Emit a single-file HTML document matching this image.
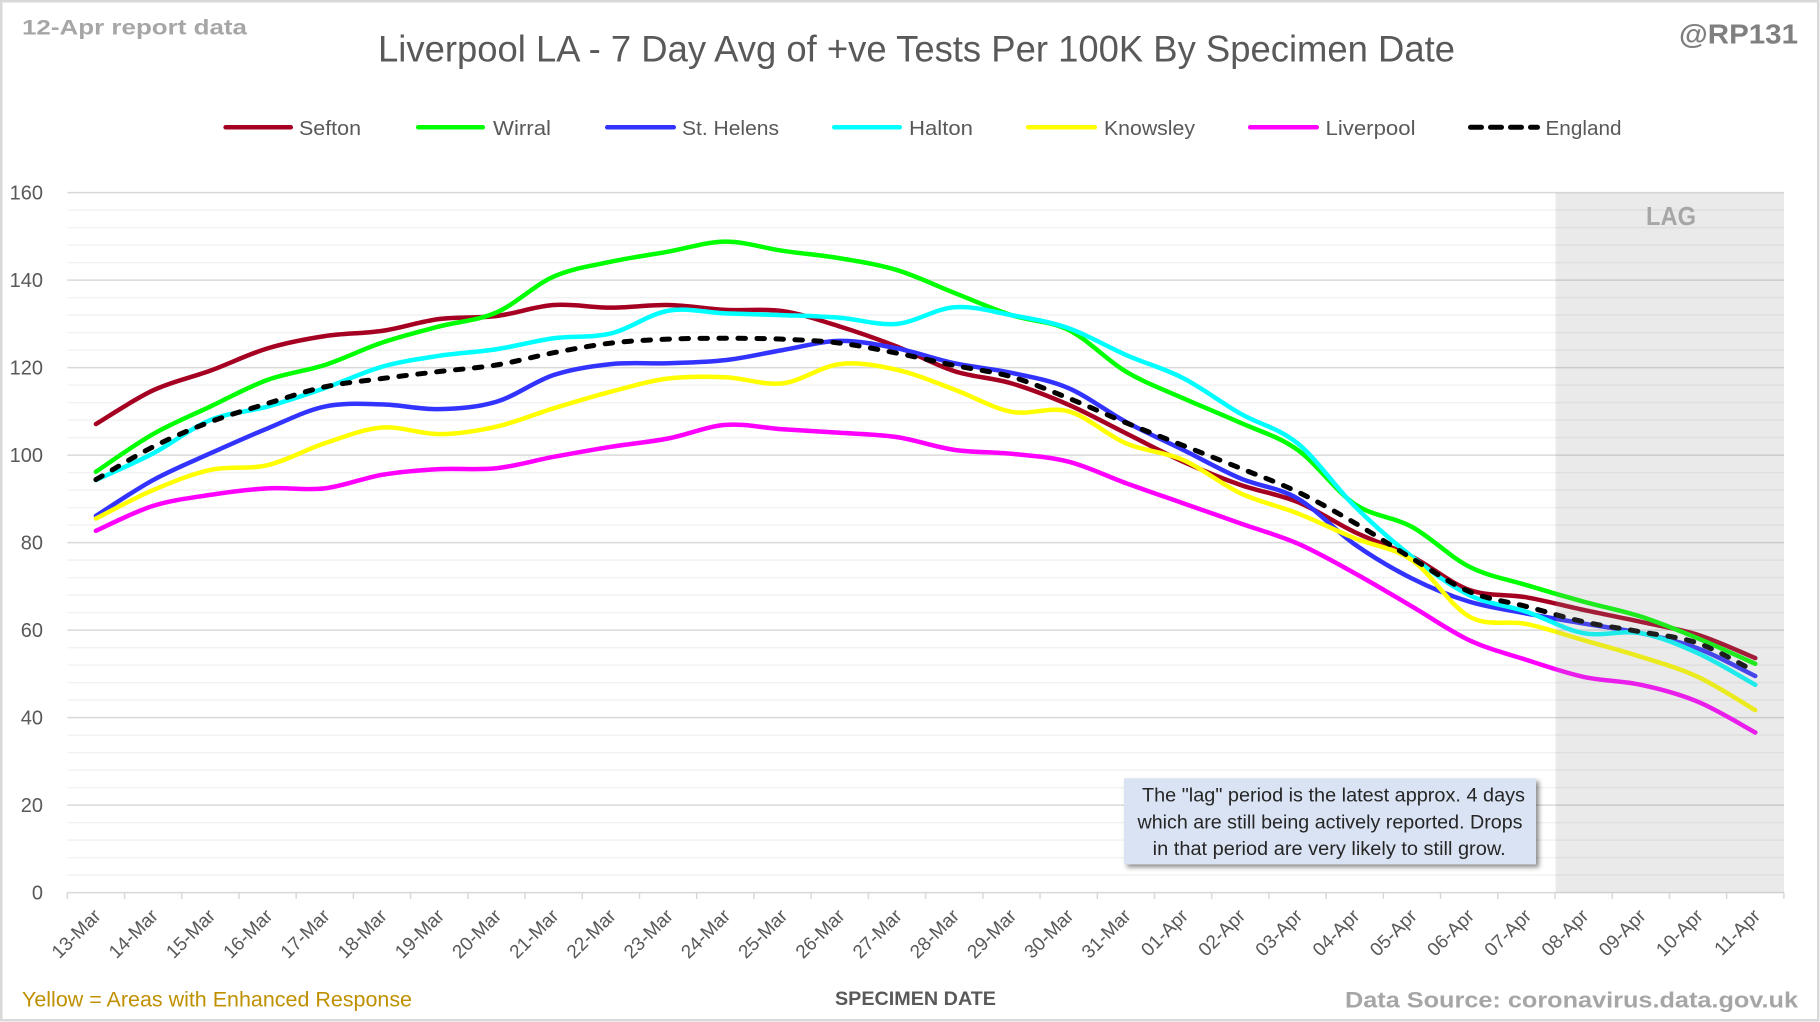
<!DOCTYPE html>
<html>
<head>
<meta charset="utf-8">
<style>
html,body{margin:0;padding:0;background:#fff;}
svg{display:block;}
text{font-family:"Liberation Sans",Arial,sans-serif;}
</style>
</head>
<body>
<svg id="c" xmlns="http://www.w3.org/2000/svg" width="1820" height="1022" viewBox="0 0 1820 1022">
<defs>
<filter id="sh" x="-10%" y="-20%" width="130%" height="150%">
<feDropShadow dx="3" dy="3" stdDeviation="2.5" flood-color="#000" flood-opacity="0.45"/>
</filter>
</defs>
<rect x="1.25" y="1.25" width="1817" height="1019" fill="#fff" stroke="#D9D9D9" stroke-width="2.5"/>

<!-- header texts -->
<text x="22" y="34.5" font-size="21" font-weight="bold" fill="#A6A6A6" textLength="225" lengthAdjust="spacingAndGlyphs">12-Apr report data</text>
<text x="378" y="61.7" font-size="37" fill="#595959" textLength="1077" lengthAdjust="spacingAndGlyphs">Liverpool LA - 7 Day Avg of +ve Tests Per 100K By Specimen Date</text>
<text x="1679" y="43.3" font-size="28" font-weight="bold" fill="#7F7F7F" textLength="119" lengthAdjust="spacingAndGlyphs">@RP131</text>

<!-- legend -->
<g stroke-width="4.5" stroke-linecap="round" fill="none">
<path d="M225.6 127.3H290.8" stroke="#A50021"/>
<path d="M418.2 127.3H482.8" stroke="#00FF00"/>
<path d="M607.2 127.3H673.8" stroke="#3333FF"/>
<path d="M834.2 127.3H899.8" stroke="#00FFFF"/>
<path d="M1028.2 127.3H1094.8" stroke="#FFFF00"/>
<path d="M1250.2 127.3H1316.8" stroke="#FF00FF"/>
<path d="M1470.5 127.3H1537.5" stroke="#000" stroke-width="5" stroke-dasharray="11 9"/>
</g>
<g font-size="20" fill="#595959">
<text x="299" y="135" textLength="62" lengthAdjust="spacingAndGlyphs">Sefton</text>
<text x="493" y="135" textLength="58" lengthAdjust="spacingAndGlyphs">Wirral</text>
<text x="682" y="135" textLength="97" lengthAdjust="spacingAndGlyphs">St. Helens</text>
<text x="909" y="135" textLength="64" lengthAdjust="spacingAndGlyphs">Halton</text>
<text x="1104" y="135" textLength="91" lengthAdjust="spacingAndGlyphs">Knowsley</text>
<text x="1325.5" y="135" textLength="90" lengthAdjust="spacingAndGlyphs">Liverpool</text>
<text x="1545.5" y="135" textLength="76" lengthAdjust="spacingAndGlyphs">England</text>
</g>

<!-- gridlines -->
<path fill="none" stroke="#F2F2F2" stroke-width="1.5" d="M67.3 875.1H1784M67.3 857.6H1784M67.3 840.1H1784M67.3 822.6H1784M67.3 787.6H1784M67.3 770.1H1784M67.3 752.6H1784M67.3 735.1H1784M67.3 700.1H1784M67.3 682.6H1784M67.3 665.1H1784M67.3 647.6H1784M67.3 612.6H1784M67.3 595.1H1784M67.3 577.6H1784M67.3 560.1H1784M67.3 525.1H1784M67.3 507.6H1784M67.3 490.1H1784M67.3 472.6H1784M67.3 437.6H1784M67.3 420.1H1784M67.3 402.6H1784M67.3 385.1H1784M67.3 350.1H1784M67.3 332.6H1784M67.3 315.1H1784M67.3 297.6H1784M67.3 262.6H1784M67.3 245.1H1784M67.3 227.6H1784M67.3 210.1H1784"/>
<path fill="none" stroke="#D9D9D9" stroke-width="1.5" d="M67.3 892.6H1784M67.3 805.1H1784M67.3 717.6H1784M67.3 630.1H1784M67.3 542.6H1784M67.3 455.1H1784M67.3 367.6H1784M67.3 280.1H1784M67.3 192.6H1784"/>
<!-- ticks -->
<path fill="none" stroke="#D9D9D9" stroke-width="1.5" d="M67.3 892.6V899M124.52 892.6V899M181.74 892.6V899M238.96 892.6V899M296.18 892.6V899M353.4 892.6V899M410.62 892.6V899M467.84 892.6V899M525.06 892.6V899M582.28 892.6V899M639.5 892.6V899M696.72 892.6V899M753.94 892.6V899M811.16 892.6V899M868.38 892.6V899M925.6 892.6V899M982.82 892.6V899M1040.04 892.6V899M1097.26 892.6V899M1154.48 892.6V899M1211.7 892.6V899M1268.92 892.6V899M1326.14 892.6V899M1383.36 892.6V899M1440.58 892.6V899M1497.8 892.6V899M1555.02 892.6V899M1612.24 892.6V899M1669.46 892.6V899M1726.68 892.6V899M1783.9 892.6V899"/>

<!-- y labels -->
<g font-size="20" fill="#595959" text-anchor="end">
<text x="43" y="199.6">160</text>
<text x="43" y="287.1">140</text>
<text x="43" y="374.6">120</text>
<text x="43" y="462.1">100</text>
<text x="43" y="549.6">80</text>
<text x="43" y="637.1">60</text>
<text x="43" y="724.6">40</text>
<text x="43" y="812.1">20</text>
<text x="43" y="899.6">0</text>
</g>

<!-- x labels -->
<g font-size="19" fill="#595959" text-anchor="end">
<text transform="translate(101.9 917) rotate(-45)">13-Mar</text>
<text transform="translate(159.1 917) rotate(-45)">14-Mar</text>
<text transform="translate(216.3 917) rotate(-45)">15-Mar</text>
<text transform="translate(273.6 917) rotate(-45)">16-Mar</text>
<text transform="translate(330.8 917) rotate(-45)">17-Mar</text>
<text transform="translate(388.0 917) rotate(-45)">18-Mar</text>
<text transform="translate(445.2 917) rotate(-45)">19-Mar</text>
<text transform="translate(502.4 917) rotate(-45)">20-Mar</text>
<text transform="translate(559.7 917) rotate(-45)">21-Mar</text>
<text transform="translate(616.9 917) rotate(-45)">22-Mar</text>
<text transform="translate(674.1 917) rotate(-45)">23-Mar</text>
<text transform="translate(731.3 917) rotate(-45)">24-Mar</text>
<text transform="translate(788.5 917) rotate(-45)">25-Mar</text>
<text transform="translate(845.8 917) rotate(-45)">26-Mar</text>
<text transform="translate(903.0 917) rotate(-45)">27-Mar</text>
<text transform="translate(960.2 917) rotate(-45)">28-Mar</text>
<text transform="translate(1017.4 917) rotate(-45)">29-Mar</text>
<text transform="translate(1074.6 917) rotate(-45)">30-Mar</text>
<text transform="translate(1131.9 917) rotate(-45)">31-Mar</text>
<text transform="translate(1189.1 917) rotate(-45)">01-Apr</text>
<text transform="translate(1246.3 917) rotate(-45)">02-Apr</text>
<text transform="translate(1303.5 917) rotate(-45)">03-Apr</text>
<text transform="translate(1360.7 917) rotate(-45)">04-Apr</text>
<text transform="translate(1418.0 917) rotate(-45)">05-Apr</text>
<text transform="translate(1475.2 917) rotate(-45)">06-Apr</text>
<text transform="translate(1532.4 917) rotate(-45)">07-Apr</text>
<text transform="translate(1589.6 917) rotate(-45)">08-Apr</text>
<text transform="translate(1646.8 917) rotate(-45)">09-Apr</text>
<text transform="translate(1704.1 917) rotate(-45)">10-Apr</text>
<text transform="translate(1761.3 917) rotate(-45)">11-Apr</text>
</g>

<!-- series -->
<g id="ser" transform="translate(95.9 892.6) scale(57.22 -4.375)" fill="none" stroke-linecap="round" stroke-linejoin="round">
<path vector-effect="non-scaling-stroke" stroke="#A50021" stroke-width="4.5" d="M0 107.1 1 114.8 2 119.3 3 124.4 4 127.2 5 128.4 6 131.1 7 131.8 8 134.3 9 133.7 10 134.3 11 133.2 12 132.9 13 129.4 14 124.8 15 119.2 16 116.4 17 111.5 18 105.0 19 98.5 20 93.2 21 89.3 22 82.4 23 76.8 24 69.2 25 67.5 26 64.6 27 61.9 28 58.9 29 53.6"/>
<path vector-effect="non-scaling-stroke" stroke="#00FF00" stroke-width="4.5" d="M0 96.2 1 104.8 2 111.1 3 117.2 4 120.6 5 125.7 6 129.4 7 132.6 8 140.8 9 144.2 10 146.5 11 148.8 12 146.7 13 145.0 14 142.3 15 137.1 16 132.0 17 128.6 18 119.1 19 113.0 20 107.4 21 101.2 22 88.8 23 83.6 24 74.5 25 70.3 26 66.5 27 63.1 28 58.1 29 52.3"/>
<path vector-effect="non-scaling-stroke" stroke="#3333FF" stroke-width="4.5" d="M0 86.1 1 94.3 2 100.4 3 106.1 4 111.1 5 111.6 6 110.5 7 112.2 8 118.3 9 120.8 10 121.0 11 121.7 12 124.0 13 126.1 14 124.4 15 121.0 16 118.8 17 115.3 18 107.6 19 101.2 20 94.7 21 90.1 22 79.6 23 71.8 24 66.5 25 63.8 26 61.5 27 59.3 28 55.8 29 49.5"/>
<path vector-effect="non-scaling-stroke" stroke="#00FFFF" stroke-width="4.5" d="M0 94.3 1 100.4 2 108.0 3 111.1 4 115.3 5 120.2 6 122.7 7 124.2 8 126.7 9 127.8 10 133.0 11 132.4 12 132.0 13 131.4 14 130.0 15 133.8 16 132.0 17 129.0 18 122.9 19 117.6 20 109.5 21 102.7 22 88.3 23 76.8 24 68.0 25 64.2 26 59.3 27 59.3 28 54.7 29 47.5"/>
<path vector-effect="non-scaling-stroke" stroke="#FFFF00" stroke-width="4.5" d="M0 85.5 1 92.0 2 96.6 3 97.7 4 102.7 5 106.3 6 104.8 7 106.5 8 110.7 9 114.5 10 117.5 11 117.8 12 116.4 13 120.8 14 119.5 15 115.0 16 109.9 17 110.0 18 102.7 19 98.9 20 91.3 21 86.7 22 81.0 23 76.0 24 63.1 25 61.4 26 57.7 27 53.9 28 49.3 29 41.7"/>
<path vector-effect="non-scaling-stroke" stroke="#FF00FF" stroke-width="4.5" d="M0 82.7 1 88.4 2 90.9 3 92.4 4 92.4 5 95.5 6 96.8 7 97.0 8 99.6 9 101.9 10 103.8 11 106.9 12 105.9 13 105.1 14 104.1 15 101.2 16 100.3 17 98.5 18 93.6 19 89.0 20 84.4 21 79.8 22 73.0 23 65.4 24 57.7 25 53.2 26 49.3 27 47.5 28 43.6 29 36.6"/>
<path vector-effect="non-scaling-stroke" stroke="#000000" stroke-width="5" stroke-dasharray="7.5 11.5" d="M0 94.4 1 101.9 2 107.6 3 111.8 4 115.6 5 117.5 6 119.1 7 120.6 8 123.4 9 125.6 10 126.5 11 126.7 12 126.5 13 125.6 14 123.3 15 120.5 16 117.9 17 113.0 18 107.4 19 102.2 20 97.0 21 91.6 22 84.5 23 76.4 24 68.8 25 65.4 26 61.9 27 59.6 28 57.0 29 50.5"/>
</g>

<!-- lag overlay -->
<rect x="1555.6" y="192.6" width="228.4" height="700" fill="#969696" fill-opacity="0.2"/>
<text x="1646" y="225" font-size="26" font-weight="bold" fill="#A6A6A6" textLength="50" lengthAdjust="spacingAndGlyphs">LAG</text>

<!-- annotation box -->
<rect x="1124" y="778.3" width="412" height="86" fill="#DAE3F3" filter="url(#sh)"/>
<g font-size="19" fill="#262626" text-anchor="middle">
<text x="1333.5" y="801.7" textLength="383" lengthAdjust="spacingAndGlyphs">The "lag" period is the latest approx. 4 days</text>
<text x="1330" y="828.5" textLength="385" lengthAdjust="spacingAndGlyphs">which are still being actively reported.  Drops</text>
<text x="1329.2" y="855" textLength="353" lengthAdjust="spacingAndGlyphs">in that period are very likely to still grow.</text>
</g>

<!-- footer -->
<text x="22" y="1006.5" font-size="21" fill="#BF9000" textLength="390" lengthAdjust="spacingAndGlyphs">Yellow = Areas with Enhanced Response</text>
<text x="835" y="1005" font-size="19" font-weight="bold" fill="#595959" textLength="161" lengthAdjust="spacingAndGlyphs">SPECIMEN DATE</text>
<text x="1345" y="1007.3" font-size="22" font-weight="bold" fill="#A6A6A6" textLength="453" lengthAdjust="spacingAndGlyphs">Data Source: coronavirus.data.gov.uk</text>
</svg>
<script>
(function(){
  var g=document.getElementById('ser');
  var ps=g.getElementsByTagName('path');
  for(var k=0;k<ps.length;k++){
    var p=ps[k];
    var n=p.getAttribute('d').match(/-?[\d.]+/g).map(Number);
    var pts=[];
    for(var i=0;i+1<n.length;i+=2){pts.push([95.9+57.22*n[i],892.6-4.375*n[i+1]]);}
    var f=function(v){return v.toFixed(2);};
    var d='M'+f(pts[0][0])+' '+f(pts[0][1]);
    for(var j=0;j<pts.length-1;j++){
      var p0=pts[j-1]||pts[j],p1=pts[j],p2=pts[j+1],p3=pts[j+2]||pts[j+1];
      var c1x=p1[0]+(p2[0]-p0[0])/6,c1y=p1[1]+(p2[1]-p0[1])/6;
      var c2x=p2[0]-(p3[0]-p1[0])/6,c2y=p2[1]-(p3[1]-p1[1])/6;
      d+='C'+f(c1x)+' '+f(c1y)+' '+f(c2x)+' '+f(c2y)+' '+f(p2[0])+' '+f(p2[1]);
    }
    p.setAttribute('d',d);
    p.removeAttribute('vector-effect');
  }
  g.removeAttribute('transform');
})();
</script>
</body>
</html>
